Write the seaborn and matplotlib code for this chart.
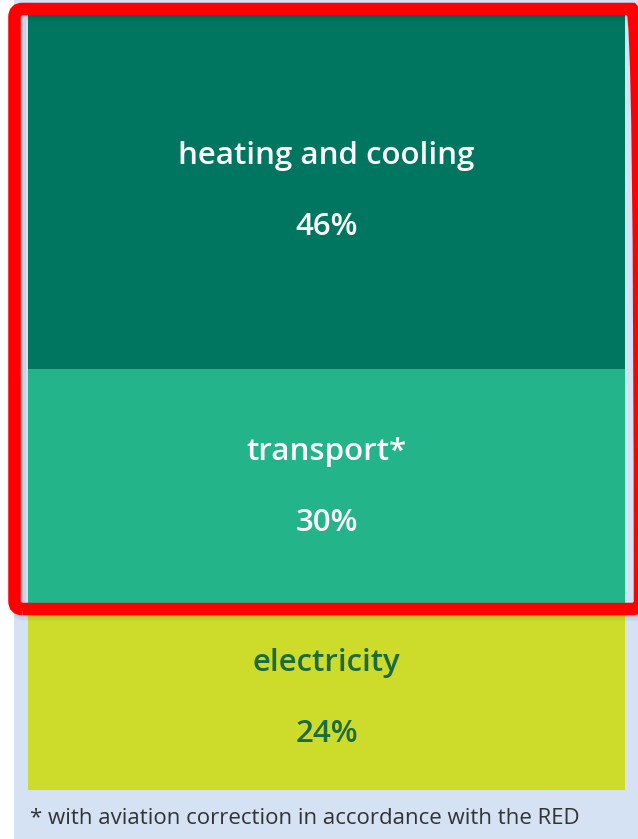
import matplotlib
matplotlib.use("Agg")
import matplotlib.pyplot as plt
from matplotlib.patches import FancyBboxPatch, Rectangle
import seaborn as sns
import numpy as np
import pandas as pd

# data
segments = ["heating and cooling", "transport*", "electricity"]
shares = [46, 30, 24]
pct_labels = ["46%", "30%", "24%"]
colors = ["#007660", "#23b589", "#cddb2a"]
text_colors = ["white", "white", "#1b6b3c"]
footnote = "* with aviation correction in accordance with the RED"

sns.set_theme(style="white")
plt.rcParams["font.family"] = ["Open Sans", "DejaVu Sans"]

W, H = 638, 839
fig = plt.figure(figsize=(W / 100, H / 100), dpi=100)
fig.patch.set_facecolor("white")
inch = fig.dpi_scale_trans


def px(x, y):
    return (x / 100, (H - y) / 100)


# light blue panel
fig.patches.append(Rectangle(px(14, H), (W - 14) / 100, H / 100, transform=inch,
                             facecolor="#d4e2f4", edgecolor="none", zorder=-5))

ax = fig.add_axes([28 / W, 1 - 790 / H, 597 / W, 780 / H])
ax.set_facecolor("none")
ax.set_zorder(1)

cum = np.cumsum(shares)
df = pd.DataFrame({"segment": segments, "share": shares, "cum": cum})
# draw from the largest cumulative value down so upper segments cover lower ones
for i in range(len(df) - 1, -1, -1):
    sns.barplot(x=["all"], y=[df["cum"][i]], color=colors[i], width=1.0,
                saturation=1, ax=ax, edgecolor="none", linewidth=0)

ax.set_xlim(-0.5, 0.5)
ax.set_ylim(100, 0)
ax.axis("off")

starts = cum - np.array(shares)
for i, row in df.iterrows():
    center = starts[i] + row["share"] / 2
    ax.annotate(row["segment"], (0, center), xytext=(0, 24), textcoords="offset points",
                ha="center", va="center", color=text_colors[i], fontsize=22.5,
                fontweight="semibold")
    ax.annotate(pct_labels[i], (0, center), xytext=(0, -27), textcoords="offset points",
                ha="center", va="center", color=text_colors[i], fontsize=22.5,
                fontweight="semibold")

fig.text(30 / W, 1 - 818 / H, footnote, ha="left", va="center", color="#333333", fontsize=16)

# red highlight frame with a soft shadow
x0, y0, x1, y1 = 14.5, 9, 640, 609
for off, a, lw in [(3, 0.06, 12), (2, 0.08, 9)]:
    shadow = FancyBboxPatch(px(x0 + off, y1 + off), (x1 - x0) / 100, (y1 - y0) / 100,
                            boxstyle="round,pad=0,rounding_size=0.08", transform=inch,
                            facecolor="none", edgecolor="#000000", alpha=a, linewidth=lw,
                            clip_on=False, zorder=5)
    fig.patches.append(shadow)
frame = FancyBboxPatch(px(x0, y1), (x1 - x0) / 100, (y1 - y0) / 100,
                       boxstyle="round,pad=0,rounding_size=0.08", transform=inch,
                       facecolor="none", edgecolor="#ff0000", linewidth=9,
                       clip_on=False, zorder=6)
fig.patches.append(frame)

fig.savefig("out.png", dpi=100)
